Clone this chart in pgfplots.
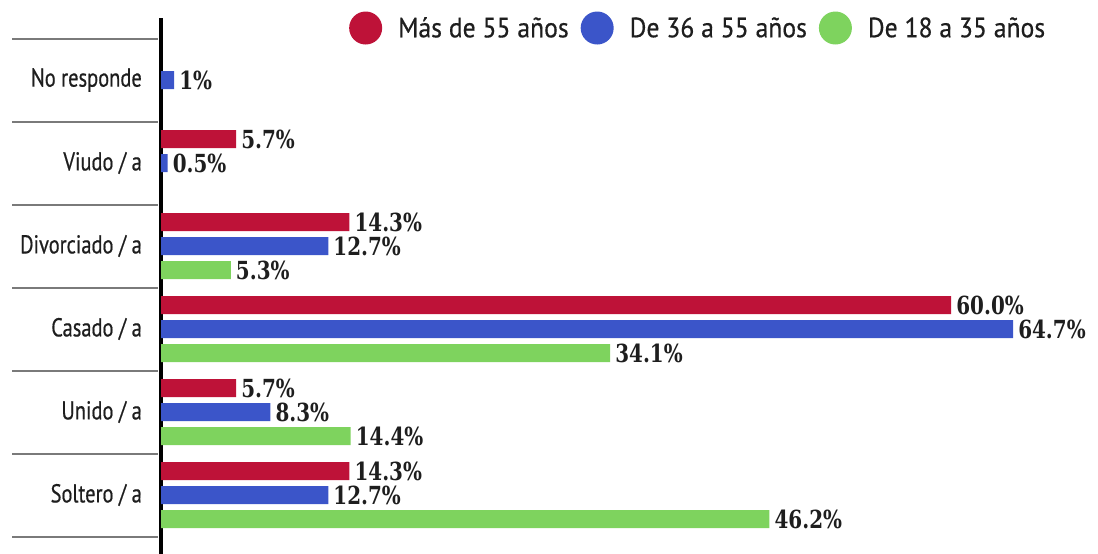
\documentclass[border=0pt]{standalone}
\usepackage{fontspec}
\usepackage{pgfplots}
\pgfplotsset{compat=1.18}
\newfontfamily\condfont[FakeStretch=0.79, FakeBold=0.5]{PT Sans}
\newfontfamily\legfont[FakeStretch=0.92, FakeBold=0.5]{PT Sans}
\newfontfamily\valfont[FakeStretch=0.8]{DejaVu Serif}
\definecolor{cRed}{HTML}{BE1238}
\definecolor{cBlue}{HTML}{3B55C9}
\definecolor{cGreen}{HTML}{7ED35E}
\definecolor{sepGray}{HTML}{7A7A7A}
\definecolor{txt}{HTML}{1E1E1E}

\begin{document}
\begin{tikzpicture}
\path[use as bounding box] (0bp,0bp) rectangle (1098bp,-554bp);
\begin{axis}[
    at={(161bp,-18bp)}, anchor=north west,
    scale only axis, width=937bp, height=536bp,
    xmin=0, xmax=71.15, ymin=-0.747, ymax=5.711, y dir=reverse,
    axis x line=none, axis y line*=left,
    y axis line style={line width=3bp, black, -},
    ytick={0,1,2,3,4,5},
    yticklabels={No responde, Viudo / a, Divorciado / a, Casado / a, Unido / a, Soltero / a},
    major tick length=0pt,
    yticklabel style={font=\condfont\fontsize{26}{30}\selectfont, text=txt, inner sep=0pt, xshift=-19bp},
    xbar, bar width=18bp,
    nodes near coords, point meta=explicit symbolic,
    every node near coord/.append style={font=\valfont\bfseries\fontsize{25}{28}\selectfont, text=txt, anchor=west, inner xsep=5bp},
    clip=false,
    legend columns=3,
    legend style={at={(axis description cs:0.2006,1.0125)}, anchor=north west,
        draw=none, fill=none, inner sep=0pt,
        font=\legfont\fontsize{28}{32}\selectfont, text=txt,
        /tikz/every odd column/.append style={column sep=14bp},
        /tikz/every even column/.append style={column sep=10bp}},
]
\addplot[draw=none, fill=cRed, bar shift=24bp,
    legend image code/.code={\fill[cRed] (0bp,0bp) circle (16.5bp);}]
  coordinates {(5.7,1) [5.7\%] (14.3,2) [14.3\%] (60.0,3) [60.0\%] (5.7,4) [5.7\%] (14.3,5) [14.3\%]};
\addlegendentry{Más de 55 años}
\addplot[draw=none, fill=cBlue, bar shift=0bp,
    legend image code/.code={\fill[cBlue] (0bp,0bp) circle (16.5bp);}]
  coordinates {(1,0) [1\%] (0.5,1) [0.5\%] (12.7,2) [12.7\%] (64.7,3) [64.7\%] (8.3,4) [8.3\%] (12.7,5) [12.7\%]};
\addlegendentry{De 36 a 55 años}
\addplot[draw=none, fill=cGreen, bar shift=-24bp,
    legend image code/.code={\fill[cGreen] (0bp,0bp) circle (16.5bp);}]
  coordinates {(5.3,2) [5.3\%] (34.1,3) [34.1\%] (14.4,4) [14.4\%] (46.2,5) [46.2\%]};
\addlegendentry{De 18 a 35 años}
\end{axis}
\foreach \yy in {38.5,121.5,204.5,287.5,370.5,453.5,536.5}
  \draw[sepGray, line width=2bp] (12bp,-\yy bp) -- (158bp,-\yy bp);
\end{tikzpicture}
\end{document}
